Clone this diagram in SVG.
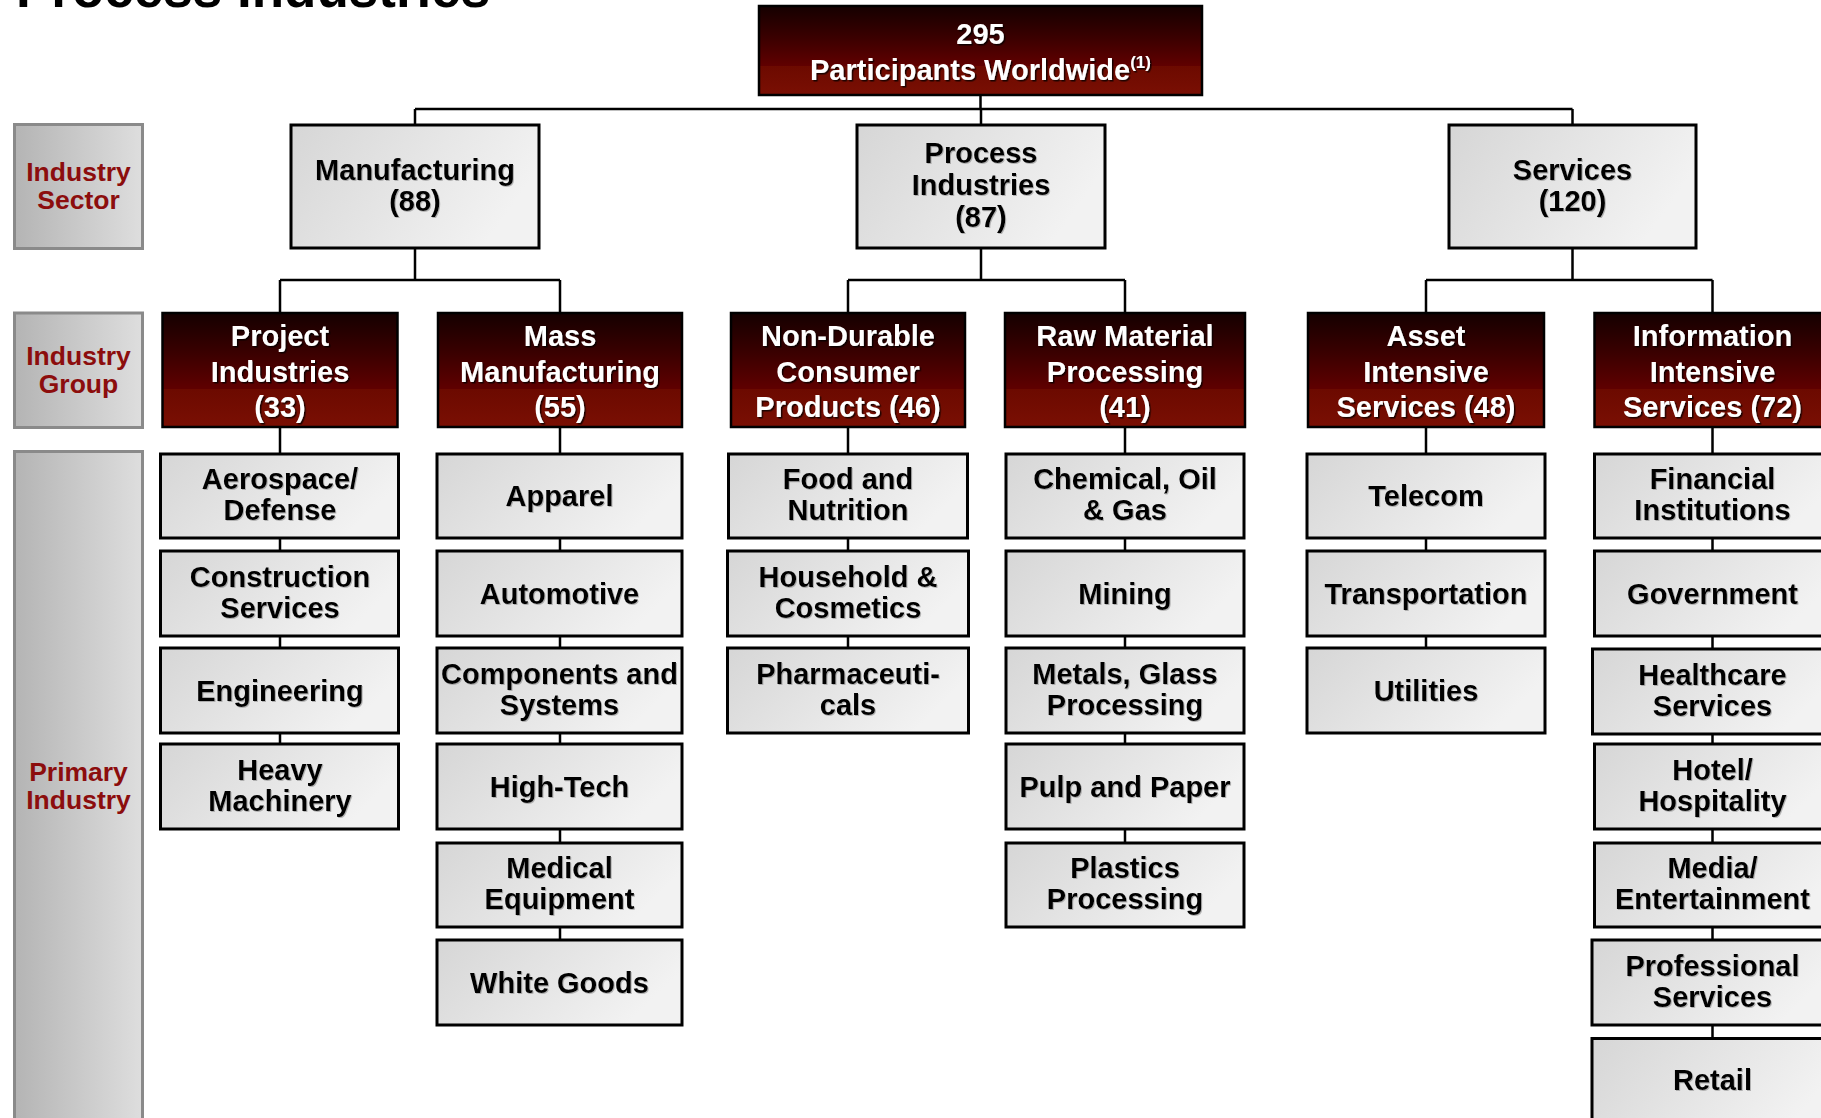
<svg xmlns="http://www.w3.org/2000/svg" width="1821" height="1118" viewBox="0 0 1821 1118">
  <defs>
    <linearGradient id="gRed" x1="0" y1="0" x2="0" y2="1">
      <stop offset="0" stop-color="#150000"/>
      <stop offset="0.35" stop-color="#3a0000"/>
      <stop offset="0.67" stop-color="#600000"/>
      <stop offset="0.67" stop-color="#6c0a00"/>
      <stop offset="1" stop-color="#7a0f03"/>
    </linearGradient>
    <linearGradient id="gGrey" x1="0" y1="0" x2="1" y2="0.35">
      <stop offset="0" stop-color="#d6d6d6"/>
      <stop offset="1" stop-color="#f2f2f2"/>
    </linearGradient>
    <linearGradient id="gLbl" x1="0" y1="0" x2="1" y2="0">
      <stop offset="0" stop-color="#b4b4b4"/>
      <stop offset="1" stop-color="#dedede"/>
    </linearGradient>
    <filter id="shW" x="-10%" y="-20%" width="120%" height="140%">
      <feDropShadow dx="1.5" dy="1.5" stdDeviation="0.6" flood-color="#000" flood-opacity="0.75"/>
    </filter>
    <filter id="shK" x="-10%" y="-20%" width="120%" height="140%">
      <feDropShadow dx="1" dy="1" stdDeviation="0.6" flood-color="#777" flood-opacity="0.5"/>
    </filter>
  </defs>
  <style>
    text { font-family: "Liberation Sans", Arial, sans-serif; font-weight: bold; text-anchor: middle; }
    .title { font-size: 53px; fill: #000; text-anchor: start; }
    .lbl rect { fill: url(#gLbl); stroke: #8a8a8a; stroke-width: 3; }
    .lbl text { font-size: 26.5px; fill: #8c0d0d; }
    .grp rect { fill: url(#gRed); stroke: #000; stroke-width: 2.5; }
    .grp text { font-size: 29px; fill: #fff; filter: url(#shW); }
    .sec rect, .pri rect { fill: url(#gGrey); stroke: #000; stroke-width: 3; }
    .sec text, .pri text { font-size: 29px; fill: #000; filter: url(#shK); }
    .sup { font-size: 17px; }
    .conn path { fill: none; stroke: #000; stroke-width: 2.5; }
  </style>

  <rect width="1821" height="1118" fill="#fff"/>

  <text class="title" x="16" y="7">Process Industries</text>

  <!-- row labels -->
  <g id="label-sector" class="lbl">
    <rect x="14.5" y="124.5" width="128" height="124"/>
    <text x="78.5" y="181">Industry</text>
    <text x="78.5" y="209">Sector</text>
  </g>
  <g id="label-group" class="lbl">
    <rect x="14.5" y="313" width="128" height="114.5"/>
    <text x="78.5" y="365">Industry</text>
    <text x="78.5" y="393">Group</text>
  </g>
  <g id="label-primary" class="lbl">
    <rect x="14.5" y="451.5" width="128" height="700"/>
    <text x="78.5" y="781">Primary</text>
    <text x="78.5" y="809">Industry</text>
  </g>

  <!-- connectors -->
  <g id="connectors" class="conn">
    <path d="M980.5,95 V109 M415,109 H1572.5 M415,109 V125 M981,109 V125 M1572.5,109 V125"/>
    <path d="M415,248 V280 M981,248 V280 M1572.5,248 V280"/>
    <path d="M280,280 H560 M848,280 H1125 M1426,280 H1712.5"/>
    <path d="M280,280 V313 M560,280 V313 M848,280 V313 M1125,280 V313 M1426,280 V313 M1712.5,280 V313"/>
    <path d="M280,427 V744 M560,427 V940 M848,427 V648 M1125,427 V843 M1426,427 V648 M1712.5,427 V1038"/>
  </g>

  <!-- root -->
  <g id="root" class="grp">
    <rect x="759" y="6" width="443" height="89" stroke-width="3"/>
    <text x="980.5" y="43.5">295</text>
    <text x="980.5" y="79.5">Participants Worldwide<tspan class="sup" dy="-12">(1)</tspan></text>
  </g>

  <!-- industry sectors -->
  <g id="sec-manufacturing" class="sec">
    <rect x="291" y="125" width="248" height="123"/>
    <text x="415" y="179.5">Manufacturing</text>
    <text x="415" y="210.5">(88)</text>
  </g>
  <g id="sec-process" class="sec">
    <rect x="857" y="125" width="248" height="123"/>
    <text x="981" y="162.5">Process</text>
    <text x="981" y="194.5">Industries</text>
    <text x="981" y="226.5">(87)</text>
  </g>
  <g id="sec-services" class="sec">
    <rect x="1449" y="125" width="247" height="123"/>
    <text x="1572.5" y="179.5">Services</text>
    <text x="1572.5" y="210.5">(120)</text>
  </g>

  <!-- industry groups -->
  <g id="grp-project" class="grp">
    <rect x="162.5" y="313" width="235" height="114"/>
    <text x="280" y="346">Project</text>
    <text x="280" y="381.5">Industries</text>
    <text x="280" y="417">(33)</text>
  </g>
  <g id="grp-mass" class="grp">
    <rect x="438" y="313" width="244" height="114"/>
    <text x="560" y="346">Mass</text>
    <text x="560" y="381.5">Manufacturing</text>
    <text x="560" y="417">(55)</text>
  </g>
  <g id="grp-nondurable" class="grp">
    <rect x="731" y="313" width="234" height="114"/>
    <text x="848" y="346">Non-Durable</text>
    <text x="848" y="381.5">Consumer</text>
    <text x="848" y="417">Products (46)</text>
  </g>
  <g id="grp-raw" class="grp">
    <rect x="1005" y="313" width="240" height="114"/>
    <text x="1125" y="346">Raw Material</text>
    <text x="1125" y="381.5">Processing</text>
    <text x="1125" y="417">(41)</text>
  </g>
  <g id="grp-asset" class="grp">
    <rect x="1308" y="313" width="236" height="114"/>
    <text x="1426" y="346">Asset</text>
    <text x="1426" y="381.5">Intensive</text>
    <text x="1426" y="417">Services (48)</text>
  </g>
  <g id="grp-info" class="grp">
    <rect x="1594.5" y="313" width="236" height="114"/>
    <text x="1712.5" y="346">Information</text>
    <text x="1712.5" y="381.5">Intensive</text>
    <text x="1712.5" y="417">Services (72)</text>
  </g>

  <!-- primary industries: Project Industries -->
  <g id="pri-aerospace" class="pri">
    <rect x="160.5" y="454" width="238" height="84"/>
    <text x="280" y="489">Aerospace/</text>
    <text x="280" y="520">Defense</text>
  </g>
  <g id="pri-construction" class="pri">
    <rect x="160.5" y="551" width="238" height="85"/>
    <text x="280" y="586.5">Construction</text>
    <text x="280" y="617.5">Services</text>
  </g>
  <g id="pri-engineering" class="pri">
    <rect x="160.5" y="648" width="238" height="85"/>
    <text x="280" y="700.5">Engineering</text>
  </g>
  <g id="pri-heavy" class="pri">
    <rect x="160.5" y="744" width="238" height="85"/>
    <text x="280" y="779.5">Heavy</text>
    <text x="280" y="810.5">Machinery</text>
  </g>

  <!-- primary industries: Mass Manufacturing -->
  <g id="pri-apparel" class="pri">
    <rect x="437" y="454" width="245" height="84"/>
    <text x="559.5" y="506">Apparel</text>
  </g>
  <g id="pri-automotive" class="pri">
    <rect x="437" y="551" width="245" height="85"/>
    <text x="559.5" y="603.5">Automotive</text>
  </g>
  <g id="pri-components" class="pri">
    <rect x="437" y="648" width="245" height="85"/>
    <text x="559.5" y="683.5">Components and</text>
    <text x="559.5" y="714.5">Systems</text>
  </g>
  <g id="pri-hightech" class="pri">
    <rect x="437" y="744" width="245" height="85"/>
    <text x="559.5" y="796.5">High-Tech</text>
  </g>
  <g id="pri-medical" class="pri">
    <rect x="437" y="843" width="245" height="84"/>
    <text x="559.5" y="878">Medical</text>
    <text x="559.5" y="909">Equipment</text>
  </g>
  <g id="pri-whitegoods" class="pri">
    <rect x="437" y="940" width="245" height="85"/>
    <text x="559.5" y="992.5">White Goods</text>
  </g>

  <!-- primary industries: Non-Durable Consumer Products -->
  <g id="pri-food" class="pri">
    <rect x="728.5" y="454" width="239" height="84"/>
    <text x="848" y="489">Food and</text>
    <text x="848" y="520">Nutrition</text>
  </g>
  <g id="pri-household" class="pri">
    <rect x="727.5" y="551" width="241" height="85"/>
    <text x="848" y="586.5">Household &amp;</text>
    <text x="848" y="617.5">Cosmetics</text>
  </g>
  <g id="pri-pharma" class="pri">
    <rect x="727.5" y="648" width="241" height="85"/>
    <text x="848" y="683.5">Pharmaceuti-</text>
    <text x="848" y="714.5">cals</text>
  </g>

  <!-- primary industries: Raw Material Processing -->
  <g id="pri-chemical" class="pri">
    <rect x="1006" y="454" width="238" height="84"/>
    <text x="1125" y="489">Chemical, Oil</text>
    <text x="1125" y="520">&amp; Gas</text>
  </g>
  <g id="pri-mining" class="pri">
    <rect x="1006" y="551" width="238" height="85"/>
    <text x="1125" y="603.5">Mining</text>
  </g>
  <g id="pri-metals" class="pri">
    <rect x="1006" y="648" width="238" height="85"/>
    <text x="1125" y="683.5">Metals, Glass</text>
    <text x="1125" y="714.5">Processing</text>
  </g>
  <g id="pri-pulp" class="pri">
    <rect x="1006" y="744" width="238" height="85"/>
    <text x="1125" y="796.5">Pulp and Paper</text>
  </g>
  <g id="pri-plastics" class="pri">
    <rect x="1006" y="843" width="238" height="84"/>
    <text x="1125" y="878">Plastics</text>
    <text x="1125" y="909">Processing</text>
  </g>

  <!-- primary industries: Asset Intensive Services -->
  <g id="pri-telecom" class="pri">
    <rect x="1307" y="454" width="238" height="84"/>
    <text x="1426" y="506">Telecom</text>
  </g>
  <g id="pri-transportation" class="pri">
    <rect x="1307" y="551" width="238" height="85"/>
    <text x="1426" y="603.5">Transportation</text>
  </g>
  <g id="pri-utilities" class="pri">
    <rect x="1307" y="648" width="238" height="85"/>
    <text x="1426" y="700.5">Utilities</text>
  </g>

  <!-- primary industries: Information Intensive Services -->
  <g id="pri-financial" class="pri">
    <rect x="1594.5" y="454" width="240" height="84"/>
    <text x="1712.5" y="489">Financial</text>
    <text x="1712.5" y="520">Institutions</text>
  </g>
  <g id="pri-government" class="pri">
    <rect x="1594.5" y="551" width="240" height="85"/>
    <text x="1712.5" y="603.5">Government</text>
  </g>
  <g id="pri-healthcare" class="pri">
    <rect x="1592.5" y="649" width="242" height="85"/>
    <text x="1712.5" y="684.5">Healthcare</text>
    <text x="1712.5" y="715.5">Services</text>
  </g>
  <g id="pri-hotel" class="pri">
    <rect x="1594.5" y="744" width="240" height="85"/>
    <text x="1712.5" y="779.5">Hotel/</text>
    <text x="1712.5" y="810.5">Hospitality</text>
  </g>
  <g id="pri-media" class="pri">
    <rect x="1594.5" y="843" width="240" height="84"/>
    <text x="1712.5" y="878">Media/</text>
    <text x="1712.5" y="909">Entertainment</text>
  </g>
  <g id="pri-professional" class="pri">
    <rect x="1592" y="940" width="242" height="85"/>
    <text x="1712.5" y="975.5">Professional</text>
    <text x="1712.5" y="1006.5">Services</text>
  </g>
  <g id="pri-retail" class="pri">
    <rect x="1592" y="1038.5" width="242" height="100"/>
    <text x="1712.5" y="1090">Retail</text>
  </g>
</svg>
